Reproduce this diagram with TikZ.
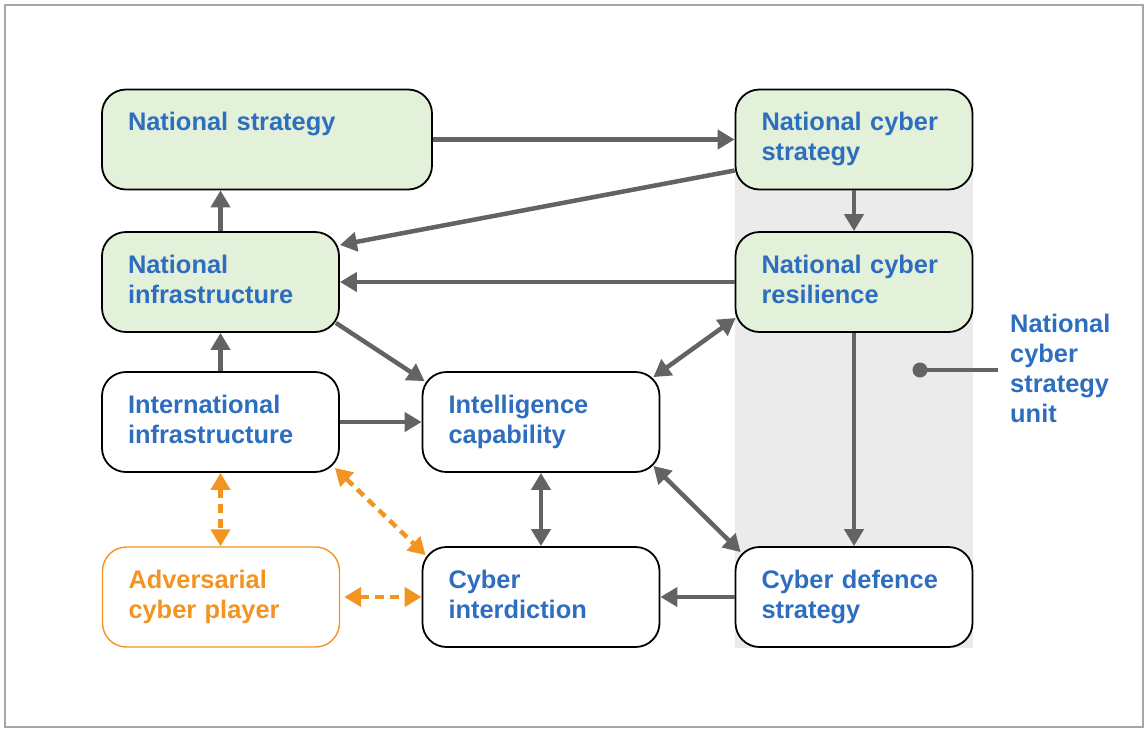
\documentclass[tikz,border=0pt]{standalone}
\usepackage{fontspec}
\setmainfont{Liberation Sans}
\usetikzlibrary{arrows.meta}
\definecolor{txtblue}{RGB}{46,110,190}
\definecolor{natgreen}{RGB}{227,240,218}
\definecolor{bandgray}{RGB}{235,235,235}
\definecolor{arrowgray}{RGB}{99,99,99}
\definecolor{advorange}{RGB}{242,148,34}
\begin{document}
\begin{tikzpicture}[x=1pt, y=-1pt,
    block/.style={draw=black, fill=white, line width=1.8pt, rounded corners=24pt, minimum height=100pt, inner xsep=26pt, inner ysep=0pt, text width=185pt, align=left, font=\fontsize{25.4}{30}\selectfont\bfseries, text=txtblue},
    national/.style={block, fill=natgreen},
    adversary/.style={block, draw=advorange, line width=1.4pt, text=advorange},
    tip/.tip={Triangle[length=17pt, width=19pt]},
    link/.style={draw=arrowgray, line width=4.5pt, -tip},
    duallink/.style={link, tip-tip},
    threat/.style={duallink, draw=advorange, dash pattern=on 9pt off 6pt}]
    \useasboundingbox (0,0) rectangle (1147,729);
    \draw[gray!70, line width=1.2pt] (5,5) rectangle (1143,727);
    % strategy unit band
    \fill[bandgray] (735,140) rectangle (973,648);
    \node[national, text width=278pt] (ns) at (267,139.5) {\strut National strategy\\\strut};
    \node[national] (ncs) at (854,139.5) {\strut National cyber\\\strut strategy};
    \node[national] (ni) at (220.5,282) {\strut National\\\strut infrastructure};
    \node[national] (ncr) at (854,282) {\strut National cyber\\\strut resilience};
    \node[block] (ii) at (220.5,422) {\strut International\\\strut infrastructure};
    \node[block] (ic) at (541,422) {\strut Intelligence\\\strut capability};
    \node[adversary] (acp) at (221,597) {\strut Adversarial\\\strut cyber player};
    \node[block] (ci) at (541,597) {\strut Cyber\\\strut interdiction};
    \node[block] (cds) at (854,597) {\strut Cyber defence\\\strut strategy};
    \node[font=\fontsize{25.4}{30}\selectfont\bfseries, text=txtblue, align=left, inner sep=0pt, anchor=west] (unit) at (1010,371) {\strut National\\cyber\\strategy\\unit\strut};
    \node[circle, fill=arrowgray, inner sep=0pt, minimum size=15pt] (dot) at (920,370) {};
    \draw[arrowgray, line width=4.5pt] (dot.center) -- ([xshift=-12pt]dot -| unit.west);
    % connectors
    \draw[link] (ns) -- (ncs);
    \draw[link] ([yshift=-31pt]ncs.west) -- ([yshift=37pt]ni.east);
    \draw[link] (ncs) -- (ncr);
    \draw[link] (ncr) -- (ni);
    \draw[link] (ni.north) -- (ni.north |- ns.south);
    \draw[link] (ii.north) -- (ii.north |- ni.south);
    \draw[link] ([xshift=-4pt,yshift=10pt]ni.south east) -- ([xshift=3pt,yshift=-10pt]ic.north west);
    \draw[link] (ii) -- (ic);
    \draw[duallink] ([xshift=-7pt,yshift=-6pt]ic.north east) -- ([xshift=1pt,yshift=-36pt]ncr.west);
    \draw[duallink] (ic) -- (ci);
    \draw[duallink] ([xshift=-7pt,yshift=7pt]ic.south east) -- ([xshift=6pt,yshift=-6pt]cds.north west);
    \draw[link] (ncr) -- (cds);
    \draw[link] (cds) -- (ci);
    \draw[threat] (ii.south) -- (ii.south |- acp.north);
    \draw[threat] ([xshift=-5pt,yshift=5pt]ii.south east) -- ([xshift=4pt,yshift=-9pt]ci.north west);
    \draw[threat, shorten <=4pt] (acp) -- (ci);
\end{tikzpicture}
\end{document}
